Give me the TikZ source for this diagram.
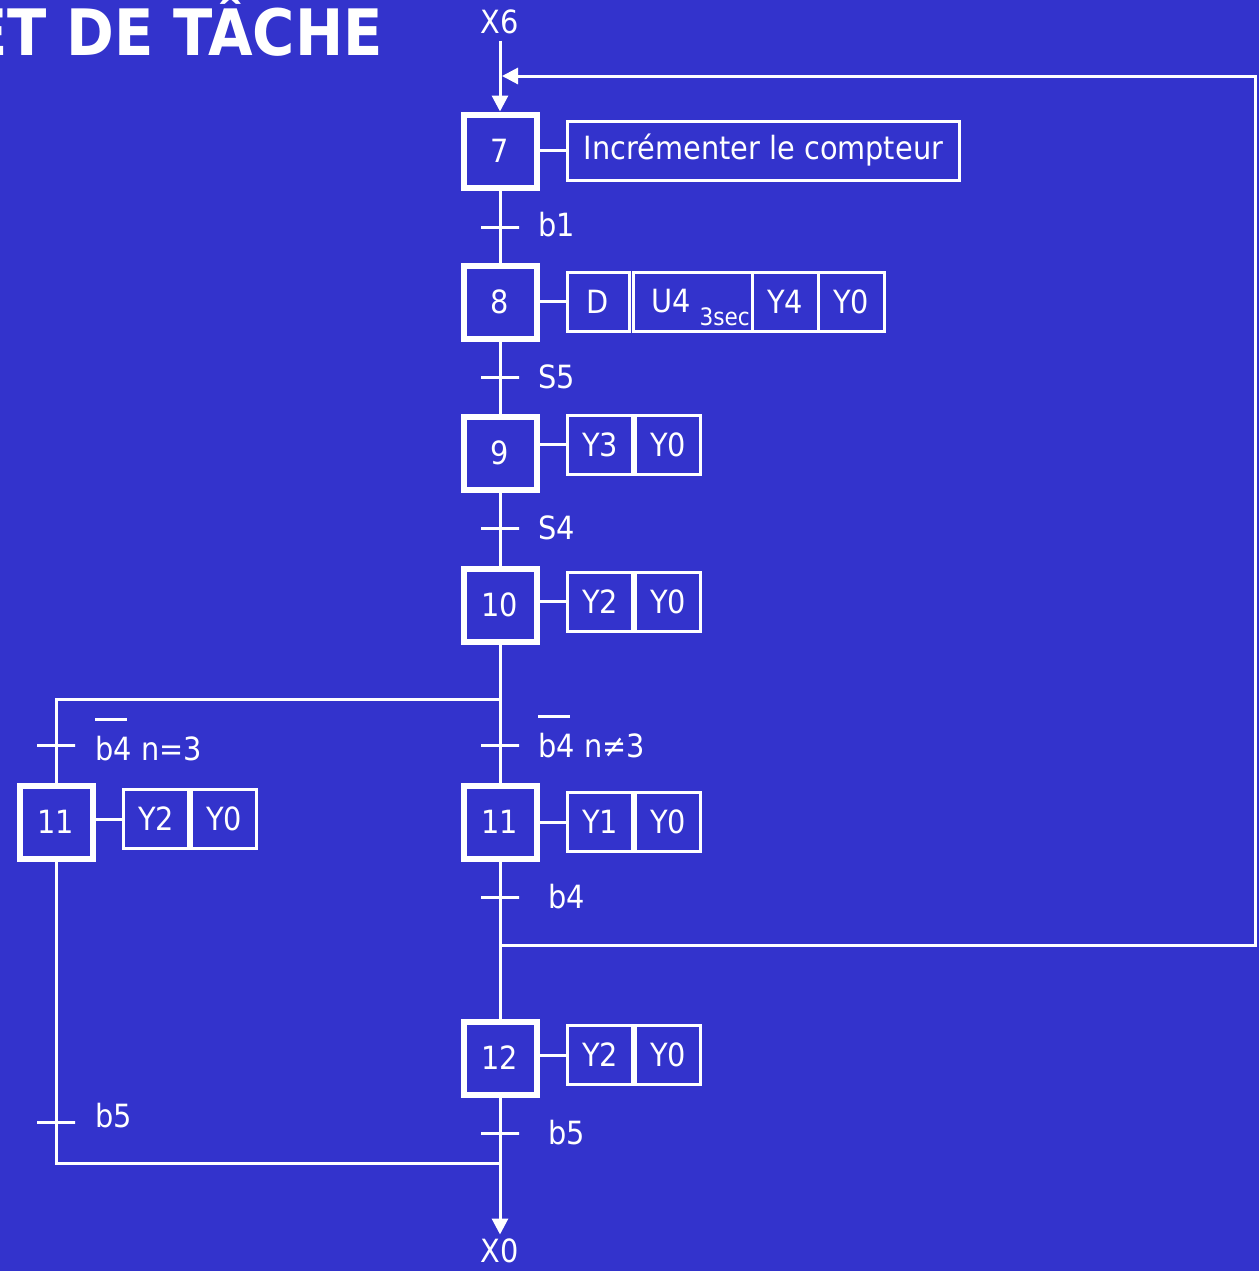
\documentclass[tikz,border=0pt]{standalone}
\usepackage{fontspec}
\setmainfont{DejaVu Sans Condensed}
\usetikzlibrary{arrows.meta}
\definecolor{fond}{RGB}{51,51,204}
\newcommand{\barre}[1]{\leavevmode\setbox0\hbox{#1}\rlap{\smash{\raisebox{1.25em}{\rule{0.85\wd0}{1.5pt}}}}\box0\relax}

\tikzset{
  etape/.style={draw, line width=3pt, minimum size=36.5pt, inner sep=0pt},
  action/.style={draw, line width=1.5pt, minimum height=29.5pt, inner sep=0pt},
  recep/.style={draw, line width=1.5pt, minimum width=19pt, minimum height=0pt, inner sep=0pt},
  lien/.style={line width=1.5pt},
  fleche/.style={lien, -{Triangle[width=8pt,length=8pt]}},
}

\begin{document}
\begin{tikzpicture}[x=0.5pt, y=-0.5pt, white, every node/.style={font=\fontsize{16}{19}\selectfont}]
  \fill[fond] (0,0) rectangle (1259,1271);
  \useasboundingbox (0,0) rectangle (1259,1271);
  \node[anchor=base east, inner sep=0pt, font=\fontsize{32}{36}\selectfont\bfseries] (titre) at (383,55) {ET DE TÂCHE};

  % etapes
  \node[etape] (s7) at (500,151) {7};
  \node[etape] (s8) at (500,302) {8};
  \node[etape] (s9) at (500,453) {9};
  \node[etape] (s10) at (500,605) {10};
  \node[etape] (s11a) at (56,822) {11};
  \node[etape] (s11b) at (500,822) {11};
  \node[etape] (s12) at (500,1058) {12};

  % actions
  \node[action, minimum width=196pt] (a7) at (763.5,150.5) {Incrémenter le compteur};
  \node[action, minimum width=31pt] (a8d) at (598,301.5) {D};
  \node[action, minimum width=59.5pt] (a8u) at (692.5,301.5) {\hspace{8pt}U4\ \smash{\raisebox{-0.4em}{\fontsize{12}{14}\selectfont 3sec}}};
  \node[action, minimum width=33pt] (a8y) at (785,301.5) {Y4};
  \node[action, minimum width=33pt] (a8z) at (851,301.5) {Y0};
  \foreach \nom/\x/\y/\ga/\dr in {a9/600/444.5/Y3/Y0, a10/600/601.5/Y2/Y0, a11a/156/819/Y2/Y0, a11b/600/822/Y1/Y0, a12/600/1055/Y2/Y0} {
    \node[action, minimum width=32.5pt] (\nom g) at (\x,\y) {\ga};
    \node[action, minimum width=32.5pt, anchor=west] (\nom d) at (\nom g.east) {\dr};
  }
  \draw[lien] (s7.east |- a7.west) -- (a7.west);
  \draw[lien] (s8.east |- a8d.west) -- (a8d.west);
  \foreach \s/\a in {s9/a9g, s10/a10g, s11a/a11ag, s11b/a11bg, s12/a12g}
    \draw[lien] (\s.east |- \a.west) -- (\a.west);

  % receptivites
  \node[recep] (t1) at (500,227) {};
  \node[recep] (t2) at (500,377) {};
  \node[recep] (t3) at (500,528) {};
  \node[recep] (t4a) at (56,745) {};
  \node[recep] (t4b) at (500,745) {};
  \node[recep] (t5) at (500,897) {};
  \node[recep] (t6a) at (56,1122) {};
  \node[recep] (t6b) at (500,1133) {};
  \node[anchor=west, inner sep=0pt] (r1) at (538,225) {b1};
  \node[anchor=west, inner sep=0pt] (r2) at (538,377) {S5};
  \node[anchor=west, inner sep=0pt] (r3) at (538,528) {S4};
  \node[anchor=west, inner sep=0pt] (r4a) at (95,749) {\barre{b4} n=3};
  \node[anchor=west, inner sep=0pt] (r4b) at (538,746) {\barre{b4} n≠3};
  \node[anchor=west, inner sep=0pt] (r5) at (548,897) {b4};
  \node[anchor=west, inner sep=0pt] (r6a) at (95,1116) {b5};
  \node[anchor=west, inner sep=0pt] (r6b) at (548,1133) {b5};

  \node[inner sep=3pt] (x6) at (500,22) {X6};
  \node[inner sep=2pt] (x0) at (500,1251) {X0};
  \coordinate (dv) at (500,699);
  \coordinate (dg) at (56,699);
  \coordinate (bc) at (500,945);
  \coordinate (bd) at (1255,945);
  \coordinate (hd) at (1255,76);
  \coordinate (hc) at (502,76);
  \coordinate (jc) at (500,1163);
  \coordinate (jg) at (56,1163);

  % liaisons
  \draw[fleche] (x6) -- (s7);
  \draw[lien] (s7) -- (t1) -- (s8) -- (t2) -- (s9) -- (t3) -- (s10) -- (dv);
  \draw[lien] (dv) -- (dg) -- (t4a) -- (s11a) -- (t6a) -- (jg) -- (jc);
  \draw[lien] (dv) -- (t4b) -- (s11b) -- (t5) -- (bc) -- (s12) -- (t6b) -- (jc);
  \draw[fleche] (bc) -- (bd) -- (hd) -- (hc);
  \draw[fleche] (jc) -- (x0);
\end{tikzpicture}
\end{document}
